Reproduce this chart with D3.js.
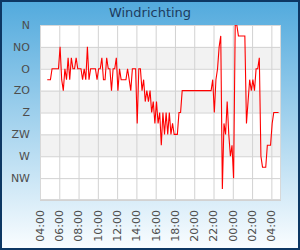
<!DOCTYPE html>
<html>
<head>
<meta charset="utf-8">
<script src="https://cdn.jsdelivr.net/npm/d3@7"></script>
<style>
  body { margin: 0; }
  svg { display: block; font-family: "DejaVu Sans", sans-serif; }
</style>
</head>
<body>
<div id="chart"></div>
<script>
// Data (10 min readings)
const times = [
  "04:45","04:55","05:05","05:15","05:25","05:35","05:45","05:55","06:05","06:15",
  "06:25","06:35","06:45","06:55","07:05","07:15","07:25","07:35","07:45","07:55",
  "08:05","08:15","08:25","08:35","08:45","08:55","09:05","09:15","09:25","09:35",
  "09:45","09:55","10:05","10:15","10:25","10:35","10:45","10:55","11:05","11:15",
  "11:25","11:35","11:45","11:55","12:05","12:15","12:25","12:35","12:45","12:55",
  "13:05","13:15","13:25","13:35","13:45","13:55","14:05","14:15","14:25","14:35",
  "14:45","14:55","15:05","15:15","15:25","15:35","15:45","15:55","16:05","16:15",
  "16:25","16:35","16:45","16:55","17:05","17:15","17:25","17:35","17:45","17:55",
  "18:05","18:15","18:25","18:35","18:45",
  "21:45","21:55","22:05","22:15","22:25","22:35","22:45","22:55","23:05","23:15",
  "23:25","23:35","23:45","23:55","00:05","00:15","00:25","00:35","00:45","00:55",
  "01:05","01:15","01:25","01:35","01:45","01:55","02:05","02:15","02:25","02:35",
  "02:45","02:55","03:05","03:15","03:25","03:35","03:45","03:55","04:05","04:15",
  "04:25","04:35","04:45"
];
const dirs = [
  112.5,112.5,112.5,90,90,90,90,90,45,112.5,
  135,90,112.5,67.5,112.5,67.5,90,90,67.5,90,
  90,90,112.5,90,112.5,45,112.5,90,90,90,
  90,112.5,90,90,67.5,112.5,112.5,67.5,90,90,
  135,90,90,67.5,135,90,112.5,112.5,112.5,112.5,
  90,112.5,135,90,90,90,202.5,90,90,135,
  112.5,157.5,135,157.5,135,180,157.5,202.5,157.5,202.5,
  180,247.5,180,225,180,225,180,225,202.5,225,
  225,225,180,180,135,
  135,112.5,180,112.5,90,45,22.5,337.5,202.5,225,
  157.5,225,270,247.5,315,0,0,22.5,22.5,22.5,
  22.5,22.5,202.5,157.5,112.5,135,112.5,135,90,90,
  67.5,270,292.5,292.5,292.5,247.5,247.5,247.5,202.5,180,
  180,180,180
];
const dirLabels = ["N", "NO", "O", "ZO", "Z", "ZW", "W", "NW"];
const dirTicks = [0, 45, 90, 135, 180, 225, 270, 315, 360];
const bandsFrom = [45, 135, 225];

const W = 300, H = 250;
const margin = { top: 25, right: 19, bottom: 50, left: 40 };

// times roll over past midnight
let day = 0, prev = -1;
const points = times.map((t, i) => {
  const [h, m] = t.split(":").map(Number);
  const mins = h * 60 + m;
  if (mins < prev) day++;
  prev = mins;
  return { date: new Date(2020, 0, 1 + day, h, m), dir: dirs[i] };
});

const svg = d3.select("#chart").append("svg").attr("width", W).attr("height", H);

const grad = svg.append("defs").append("linearGradient")
  .attr("id", "bg").attr("x1", 0).attr("y1", 0).attr("x2", 0).attr("y2", 1);
grad.append("stop").attr("offset", "0%").attr("stop-color", "#52aadd");
grad.append("stop").attr("offset", "100%").attr("stop-color", "#fafdff");
svg.select("defs").append("clipPath").attr("id", "clip")
  .append("rect").attr("x", margin.left).attr("y", margin.top)
  .attr("width", W - margin.left - margin.right).attr("height", H - margin.top - margin.bottom);

svg.append("rect").attr("x", 1).attr("y", 1).attr("width", W - 2).attr("height", H - 2)
  .attr("fill", "url(#bg)").attr("stroke", "#0d3763").attr("stroke-width", 2);

svg.append("text").attr("x", W / 2).attr("y", 17).attr("text-anchor", "middle")
  .attr("font-size", 13).attr("fill", "#1d3b5e").text("Windrichting");

const x = d3.scaleTime()
  .domain([new Date(2020, 0, 1, 4, 0), new Date(2020, 0, 2, 5, 0)])
  .range([margin.left, W - margin.right]);
const y = d3.scaleLinear().domain([0, 360]).range([margin.top, H - margin.bottom]);

// plot background + alternating bands
svg.append("rect").attr("x", x.range()[0]).attr("y", y(0))
  .attr("width", x.range()[1] - x.range()[0]).attr("height", y(360) - y(0)).attr("fill", "#fff");
svg.selectAll(".band").data(bandsFrom).enter().append("rect")
  .attr("x", x.range()[0]).attr("width", x.range()[1] - x.range()[0])
  .attr("y", d => y(d)).attr("height", d => y(d + 45) - y(d)).attr("fill", "#f2f2f2");

const xTicks = x.ticks(d3.timeHour.every(2));

svg.append("g").attr("transform", `translate(0,${y(360)})`)
  .call(d3.axisBottom(x).tickValues(xTicks).tickSize(-(y(360) - y(0))).tickFormat(""))
  .call(g => g.select(".domain").remove())
  .call(g => g.selectAll("line").attr("stroke", "#d2d2d2"));
svg.append("g").attr("transform", `translate(${x.range()[0]},0)`)
  .call(d3.axisLeft(y).tickValues(dirTicks).tickSize(-(x.range()[1] - x.range()[0])).tickFormat(""))
  .call(g => g.select(".domain").remove())
  .call(g => g.selectAll("line").attr("stroke", "#d2d2d2"));
svg.append("rect").attr("x", x.range()[0] + 0.5).attr("y", y(0) + 0.5)
  .attr("width", x.range()[1] - x.range()[0] - 1).attr("height", y(360) - y(0) - 1)
  .attr("fill", "none").attr("stroke", "#d8d8d8");

// axis labels
svg.append("g").selectAll("text").data(dirLabels).enter().append("text")
  .attr("x", 30).attr("y", (d, i) => y(dirTicks[i])).attr("dy", "0.35em")
  .attr("text-anchor", "end").attr("font-size", 11).attr("fill", "#4d4d4d").text(d => d);

const fmt = d3.timeFormat("%H:%M");
svg.append("g").selectAll("text").data(xTicks).enter().append("text")
  .attr("transform", d => `translate(${x(d)},${y(360) + 10}) rotate(-90)`)
  .attr("dy", "0.35em").attr("text-anchor", "end")
  .attr("font-size", 11).attr("fill", "#4d4d4d").text(d => fmt(d));

// wind direction line
const line = d3.line().x(d => x(d.date)).y(d => y(d.dir));
svg.append("path").datum(points).attr("clip-path", "url(#clip)")
  .attr("d", line).attr("fill", "none").attr("stroke", "#ff0000").attr("stroke-width", 1.1);
</script>
</body>
</html>
